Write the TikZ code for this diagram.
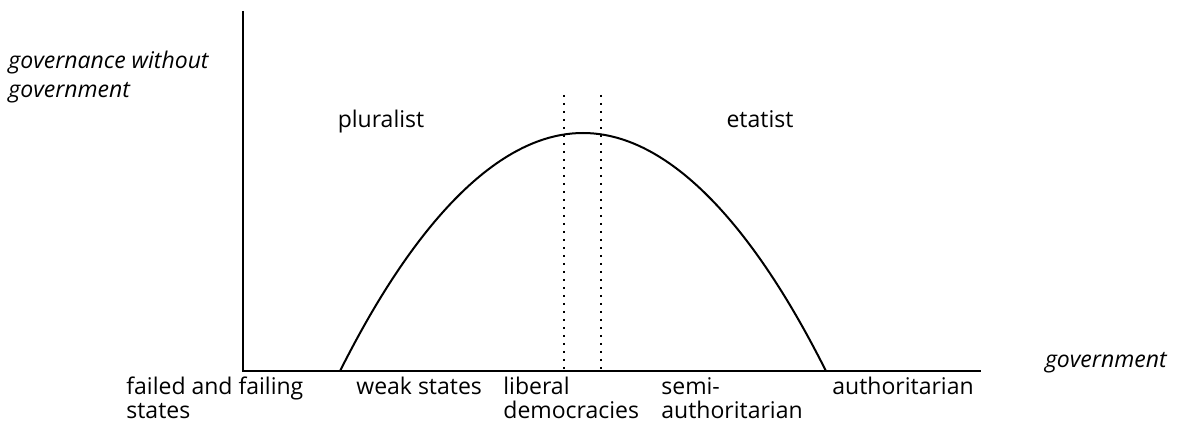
\documentclass[tikz,border=0pt]{standalone}
\usepackage{fontspec}
\setmainfont{Open Sans}
\usepackage{tikz}
\usetikzlibrary{positioning}

\begin{document}
\begin{tikzpicture}[
  x=0.5pt, y=0.5pt,
  every node/.style={inner sep=0pt, font=\fontsize{11.5}{12}\selectfont},
  label/.style={align=left, anchor=north west, execute at begin node=\strut},
  axislabel/.style={align=left, font=\fontsize{11.5}{14.5}\selectfont\itshape},
  axis/.style={line width=1.1pt, draw=black},
  curve/.style={line width=1pt, draw=black},
  divider/.style={line width=1pt, dash pattern=on 1pt off 3pt, draw=black}
]
\useasboundingbox (0,0) rectangle (1179,423);
\coordinate (origin) at (243,52);
\coordinate (ytop) at (243,412);
\coordinate (xend) at (981,52);
\coordinate (left) at (340,52);
\coordinate (peak) at (583,290);
\coordinate (right) at (826,52);
\coordinate (d1top) at (564,328);
\coordinate (d2top) at (601,328);
\draw[axis] (ytop) -- (origin) -- (xend);
\draw[curve] (left) parabola bend (peak) (right);
\draw[divider] (d1top) -- (d1top |- origin);
\draw[divider] (d2top) -- (d2top |- origin);
\node[axislabel, anchor=north west, execute at begin node=\strut] (ylabel) at (8,372) {governance without\\government};
\node[axislabel, anchor=base east] (xlabel) at (1167,55) {government};
\node[anchor=base] (pluralist) at (381,295) {pluralist};
\node[anchor=base] (etatist) at (760,295) {etatist};
\node[label] (failed) at (126,46) {failed and failing\\states};
\node[label] (weak) at (356,46) {weak states};
\node[label] (liberal) at (503,46) {liberal\\democracies};
\node[label] (semi) at (661,46) {semi-\\authoritarian};
\node[label] (auth) at (832,46) {authoritarian};
\end{tikzpicture}
\end{document}
